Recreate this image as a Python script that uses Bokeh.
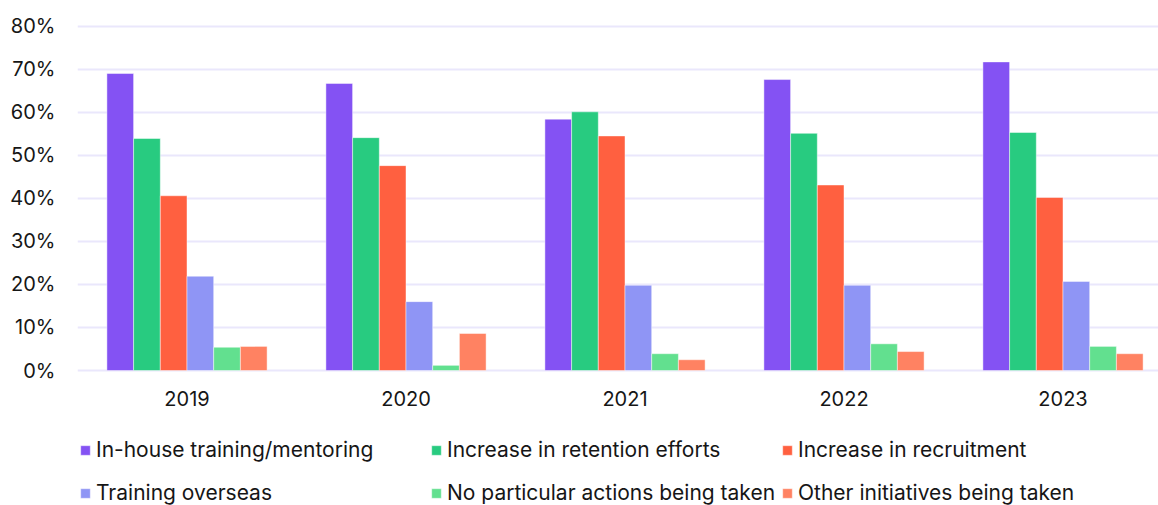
from bokeh.plotting import figure
from bokeh.models import Range1d, FixedTicker, Legend, LegendItem, ColumnDataSource
from bokeh.core.properties import value
from bokeh.embed import file_html
from bokeh.resources import INLINE

years = ["2019", "2020", "2021", "2022", "2023"]
in_house = [69.0, 66.7, 58.4, 67.6, 71.7]
retention = [53.9, 54.1, 60.1, 55.1, 55.3]
recruitment = [40.6, 47.6, 54.5, 43.1, 40.2]
overseas = [21.9, 16.0, 19.8, 19.8, 20.7]
no_action = [5.4, 1.2, 3.9, 6.2, 5.6]
other = [5.6, 8.6, 2.5, 4.4, 3.9]

series_names = [
    "In-house training/mentoring",
    "Increase in retention efforts",
    "Increase in recruitment",
    "Training overseas",
    "No particular actions being taken",
    "Other initiatives being taken",
]
series_values = [in_house, retention, recruitment, overseas, no_action, other]
colors = ["#8452F3", "#28CB80", "#FF6040", "#8F95F5", "#62E08F", "#FF8262"]

y_ticks = [0, 10, 20, 30, 40, 50, 60, 70, 80]
y_labels = ["0%", "10%", "20%", "30%", "40%", "50%", "60%", "70%", "80%"]

FONT = "Inter"
TEXT = "#161616"
PX = 4.304  # pixels per percentage point

p = figure(width=1158, height=505, output_backend="svg", toolbar_location=None,
           x_range=Range1d(0, 1081 / 219), y_range=Range1d(-135 / PX, 350 / PX),
           min_border_left=77, min_border_right=0, min_border_top=20, min_border_bottom=0)
p.outline_line_color = None
p.background_fill_color = "white"
p.border_fill_color = "white"

bw = 26.7 / 219
renderers = []
for k, (name, vals, col) in enumerate(zip(series_names, series_values, colors)):
    xs = [i + 0.5 + (k - 2.5) * bw for i in range(len(years))]
    src = ColumnDataSource(dict(x=xs, top=vals))
    r = p.vbar(x="x", top="top", bottom=0, width=bw, source=src, fill_color=col,
               line_color="white", line_alpha=0.45, line_width=1)
    renderers.append(r)

# category labels drawn under the baseline
lab_src = ColumnDataSource(dict(x=[i + 0.5 for i in range(len(years))],
                                y=[-28 / PX] * len(years), text=years))
p.text(x="x", y="y", text="text", source=lab_src, text_align="center",
       text_baseline="middle", text_font=value(FONT), text_font_size="20px",
       text_color=TEXT)

p.xaxis.visible = False
p.yaxis.ticker = FixedTicker(ticks=y_ticks)
p.yaxis.major_label_overrides = {t: l for t, l in zip(y_ticks, y_labels)}
p.yaxis.axis_line_color = None
p.yaxis.major_tick_line_color = None
p.yaxis.minor_tick_line_color = None
p.yaxis.major_label_text_font = FONT
p.yaxis.major_label_text_font_size = "20px"
p.yaxis.major_label_text_color = TEXT
p.yaxis.major_label_standoff = 16

p.xgrid.grid_line_color = None
p.ygrid.grid_line_color = "#EAE7FC"
p.ygrid.grid_line_width = 2

# legends: three columns of two items
cols = [(2, [0, 3]), (353, [1, 4]), (704, [2, 5])]
for xoff, idxs in cols:
    items = [LegendItem(label=series_names[j], renderers=[renderers[j]]) for j in idxs]
    leg = Legend(items=items, location=(xoff, 0), orientation="vertical",
                 glyph_width=12, glyph_height=12, label_standoff=5,
                 label_height=20, spacing=18, padding=0, margin=0,
                 border_line_color=None, background_fill_alpha=0,
                 label_text_font=FONT, label_text_font_size="21px",
                 label_text_color=TEXT)
    p.add_layout(leg)

open("out.html", "w").write(file_html(p, INLINE))
